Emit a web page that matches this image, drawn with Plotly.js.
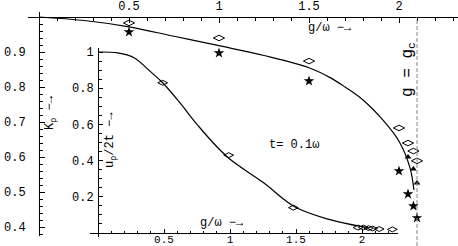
<!DOCTYPE html>
<html><head><meta charset="utf-8">
<script src="https://cdn.plot.ly/plotly-3.0.1.min.js"></script>
<style>html,body{margin:0;padding:0;background:#fff}#c{width:458px;height:246px}</style>
</head><body><div id="c"></div>
<script>
// ---- data ----
const kCurveG = [0, 0.25, 0.5, 0.75, 1.0, 1.25, 1.5, 1.62, 1.7, 1.8, 1.91, 2.0, 2.06, 2.083];
const kCurveK = [1.0, 0.99, 0.972, 0.945, 0.918, 0.89, 0.855, 0.826, 0.8, 0.763, 0.706, 0.645, 0.571, 0.506];
const kDiamG = [0.5, 1.0, 1.5, 2.0, 2.05, 2.08, 2.1];
const kDiamK = [0.983, 0.94, 0.874, 0.683, 0.64, 0.617, 0.589];
const kStarG = [0.5, 1.0, 1.5, 2.0, 2.05, 2.08, 2.1];
const kStarK = [0.957, 0.897, 0.817, 0.56, 0.494, 0.46, 0.426];
const kTriG = [2.05, 2.08, 2.1];
const kTriK = [0.6, 0.566, 0.526];
const uCurveG = [0, 0.15, 0.27, 0.4, 0.49, 0.62, 0.75, 0.98, 1.25, 1.49, 1.75, 2.0, 2.05];
const uCurveU = [1.0, 0.995, 0.97, 0.89, 0.83, 0.72, 0.6, 0.42, 0.28, 0.145, 0.075, 0.035, 0.03];
const uDiamG = [0.49, 0.99, 1.48, 1.97, 2.01, 2.05, 2.08, 2.13, 2.23];
const uDiamU = [0.83, 0.43, 0.14, 0.03, 0.03, 0.027, 0.025, 0.022, 0.02];
const gc = 2.1;
const mainXTicks = [0.5, 1, 1.5, 2];
const mainYTicks = [0.4, 0.5, 0.6, 0.7, 0.8, 0.9];
const insetXTicks = [0.5, 1, 1.5, 2];
const insetYTicks = [0.2, 0.4, 0.6, 0.8, 1];

const W = 458, H = 246;
const px = x => x / W, py = y => 1 - y / H;
const FONT = '"Liberation Mono", "DejaVu Sans Mono", monospace';

const traces = [
  {x: kCurveG, y: kCurveK, mode: 'lines', line: {color: '#000', width: 1.2, shape: 'spline'}, xaxis: 'x', yaxis: 'y'},
  {x: kDiamG, y: kDiamK, mode: 'markers', marker: {symbol: 'diamond-wide-open', size: 8, color: '#000', line: {width: 1}}, xaxis: 'x', yaxis: 'y'},
  {x: kStarG, y: kStarK, mode: 'markers', marker: {symbol: 'star', size: 8, color: '#000'}, xaxis: 'x', yaxis: 'y'},
  {x: kTriG, y: kTriK, mode: 'markers', marker: {symbol: 'triangle-up', size: 6, color: '#000'}, xaxis: 'x', yaxis: 'y'},
  {x: uCurveG, y: uCurveU, mode: 'lines', line: {color: '#000', width: 1.2, shape: 'spline'}, xaxis: 'x2', yaxis: 'y2'},
  {x: uDiamG, y: uDiamU, mode: 'markers', marker: {symbol: 'diamond-wide-open', size: 7, color: '#000', line: {width: 1}}, xaxis: 'x2', yaxis: 'y2'}
];

const axBase = {showgrid: false, zeroline: false, showline: true, linecolor: '#000', linewidth: 1,
  ticks: 'inside', tickcolor: '#000', tickwidth: 1, automargin: false, fixedrange: true,
  tickfont: {family: FONT, size: 12, color: '#000'}};

const layout = {
  width: W, height: H, margin: {l: 0, r: 0, t: 0, b: 0},
  paper_bgcolor: '#fff', plot_bgcolor: 'rgba(0,0,0,0)', showlegend: false,
  xaxis: Object.assign({}, axBase, {domain: [px(28), 1], range: [-11/180, 419/180], side: 'top',
    anchor: 'free', position: py(17), tickmode: 'array', tickvals: mainXTicks, ticklen: 5,
    ticklabelstandoff: 2, minor: {dtick: 0.1, tick0: 0, ticklen: 3, ticks: 'inside', tickcolor: '#000'}}),
  yaxis: Object.assign({}, axBase, {domain: [py(236), py(12)], range: [1 - 219/350, 1 + 5/350],
    anchor: 'free', position: px(39), tickmode: 'array', tickvals: mainYTicks, ticklen: 5,
    ticklabelstandoff: 11, minor: {dtick: 0.02, tick0: 0, ticklen: 3, ticks: 'inside', tickcolor: '#000'}}),
  xaxis2: Object.assign({}, axBase, {domain: [px(90), px(398)], range: [-8/132, 300/132],
    anchor: 'free', position: py(233), tickmode: 'array', tickvals: insetXTicks, ticklen: 4,
    ticklabelstandoff: -4, tickfont: {family: FONT, size: 11, color: '#000'},
    minor: {dtick: 0.1, tick0: 0, ticklen: 2.5, ticks: 'inside', tickcolor: '#000'}}),
  yaxis2: Object.assign({}, axBase, {domain: [py(237), py(48)], range: [-4/181, 185/181],
    anchor: 'free', position: px(98), tickmode: 'array', tickvals: insetYTicks, ticklen: 4,
    ticklabelstandoff: 2, minor: {dtick: 0.05, tick0: 0, ticklen: 2.5, ticks: 'inside', tickcolor: '#000'}}),
  shapes: [{type: 'line', xref: 'x', yref: 'paper', x0: gc, x1: gc, y0: 0, y1: py(17),
    line: {color: '#888', width: 1, dash: '4px,2px'}}],
  annotations: [
    {text: 'g/ω −→', x: px(330), y: py(28)},
    {text: 'K<sub>ρ</sub> −→', x: px(51), y: py(113), textangle: -90},
    {text: 'u<sub>ρ</sub>/2t −→', x: px(111), y: py(140), textangle: -90},
    {text: 'g/ω −→', x: px(222), y: py(223)},
    {text: 't= 0.1ω', x: px(294), y: py(145)},
    {text: 'g = g<sub>c</sub>', x: px(408), y: py(70), textangle: -90, size: 16}
  ].map(a => ({text: a.text, x: a.x, y: a.y, textangle: a.textangle || 0, xref: 'paper', yref: 'paper',
    xanchor: 'center', yanchor: 'middle', showarrow: false,
    font: {family: FONT, size: a.size || 12, color: '#000'}}))
};

Plotly.newPlot('c', traces, layout, {displayModeBar: false, staticPlot: true});
</script></body></html>
